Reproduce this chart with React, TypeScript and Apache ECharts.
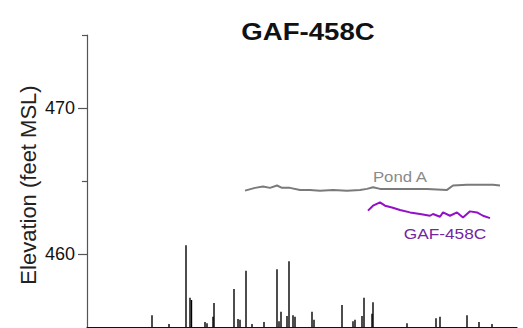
import React, { useEffect, useRef } from "react";
import * as echarts from "echarts";

const titleText = "GAF-458C";
const yAxisTitle = "Elevation (feet MSL)";
const majorTicks = [460, 470];
const minorTicks = [465, 475];

const pondDays = [158, 168, 176, 183, 190, 195, 203, 213, 223, 233, 246, 260, 273, 280, 286, 293, 313, 340, 360, 366, 380, 406, 413];
const pondValues = [464.34, 464.53, 464.62, 464.53, 464.69, 464.53, 464.53, 464.39, 464.39, 464.34, 464.39, 464.34, 464.39, 464.46, 464.57, 464.46, 464.46, 464.46, 464.39, 464.69, 464.74, 464.74, 464.69];

const wellDays = [281, 286, 293, 298, 305, 313, 323, 333, 343, 346, 353, 356, 363, 370, 376, 383, 390, 396, 403];
const wellValues = [462.97, 463.31, 463.54, 463.31, 463.19, 463.01, 462.85, 462.74, 462.62, 462.74, 462.55, 462.85, 462.62, 462.85, 462.5, 462.92, 462.85, 462.62, 462.46];

const rainDays = [65, 82, 99, 103, 104.5, 118, 120, 126, 127, 147, 151, 153, 159, 165, 177, 190, 192, 194, 200, 202, 206, 208, 225, 227, 255, 266, 268, 275, 277, 285, 286, 320, 349, 353, 380, 392, 405];
const rainValues = [0.16, 0.04, 1.12, 0.4, 0.37, 0.07, 0.05, 0.14, 0.33, 0.52, 0.11, 0.1, 0.77, 0.04, 0.07, 0.79, 0.08, 0.21, 0.15, 0.9, 0.16, 0.14, 0.21, 0.1, 0.3, 0.08, 0.1, 0.15, 0.4, 0.18, 0.34, 0.05, 0.12, 0.14, 0.16, 0.07, 0.04];

const FONT = "'Liberation Sans', Arial, sans-serif";

export default function App() {
  const ref = useRef<HTMLDivElement>(null);
  useEffect(() => {
    if (!ref.current) return;
    const chart = echarts.init(ref.current, null, { renderer: "svg" });
    const zip = (xs: number[], ys: number[]) => xs.map((x, i) => [x, ys[i]]);
    chart.setOption({
      animation: false,
      backgroundColor: "#ffffff",
      grid: { left: 87, right: 6, top: 35, bottom: 1, containLabel: false },
      xAxis: {
        type: "value",
        min: 0,
        max: 430,
        axisLine: { show: true, lineStyle: { color: "#111", width: 1.2 } },
        axisTick: { show: false },
        axisLabel: { show: false },
        splitLine: { show: false },
      },
      yAxis: [
        {
          type: "value",
          min: 455,
          max: 475,
          interval: 5,
          axisLine: { show: true, onZero: false, lineStyle: { color: "#555", width: 1.2 } },
          axisTick: { show: true, customValues: majorTicks, length: 9, lineStyle: { color: "#555", width: 1.2 } },
          axisLabel: {
            show: true,
            customValues: majorTicks,
            margin: 12,
            fontSize: 18,
            fontFamily: FONT,
            color: "#111",
          },
          splitLine: { show: false },
        },
        {
          type: "value",
          min: 455,
          max: 475,
          interval: 5,
          position: "left",
          axisLine: { show: false },
          axisTick: { show: true, customValues: minorTicks, length: 5, lineStyle: { color: "#555", width: 1.2 } },
          axisLabel: { show: false },
          splitLine: { show: false },
        },
        {
          type: "value",
          min: 0,
          max: 4,
          show: false,
          splitLine: { show: false },
        },
      ],
      series: [
        {
          type: "bar",
          yAxisIndex: 2,
          data: zip(rainDays, rainValues),
          barWidth: 1.4,
          itemStyle: { color: "#000" },
          silent: true,
        },
        {
          type: "line",
          yAxisIndex: 0,
          data: zip(pondDays, pondValues),
          showSymbol: false,
          lineStyle: { color: "#7a7a7a", width: 2 },
        },
        {
          type: "line",
          yAxisIndex: 0,
          data: zip(wellDays, wellValues),
          showSymbol: false,
          lineStyle: { color: "#9410c8", width: 2 },
        },
      ],
      graphic: [
        {
          type: "text",
          x: 308,
          y: 32,
          scaleX: 1.2,
          style: {
            text: titleText,
            fontSize: 23,
            fontWeight: "bold",
            fontFamily: FONT,
            fill: "#111",
            textAlign: "center",
            textVerticalAlign: "middle",
          },
        },
        {
          type: "text",
          x: 28,
          y: 185,
          rotation: Math.PI / 2,
          style: {
            text: yAxisTitle,
            fontSize: 22,
            fontFamily: FONT,
            fill: "#222",
            textAlign: "center",
            textVerticalAlign: "middle",
          },
        },
        {
          type: "text",
          x: 400,
          y: 177,
          scaleX: 1.2,
          style: {
            text: "Pond A",
            fontSize: 14,
            fontFamily: FONT,
            fill: "#8a8a8a",
            textAlign: "center",
            textVerticalAlign: "middle",
          },
        },
        {
          type: "text",
          x: 445,
          y: 233,
          scaleX: 1.15,
          style: {
            text: "GAF-458C",
            fontSize: 15,
            fontFamily: FONT,
            fill: "#7326a0",
            textAlign: "center",
            textVerticalAlign: "middle",
          },
        },
      ],
    });
    return () => chart.dispose();
  }, []);
  return <div ref={ref} style={{ width: 523, height: 328, position: "fixed", left: 0, top: 0 }} />;
}
